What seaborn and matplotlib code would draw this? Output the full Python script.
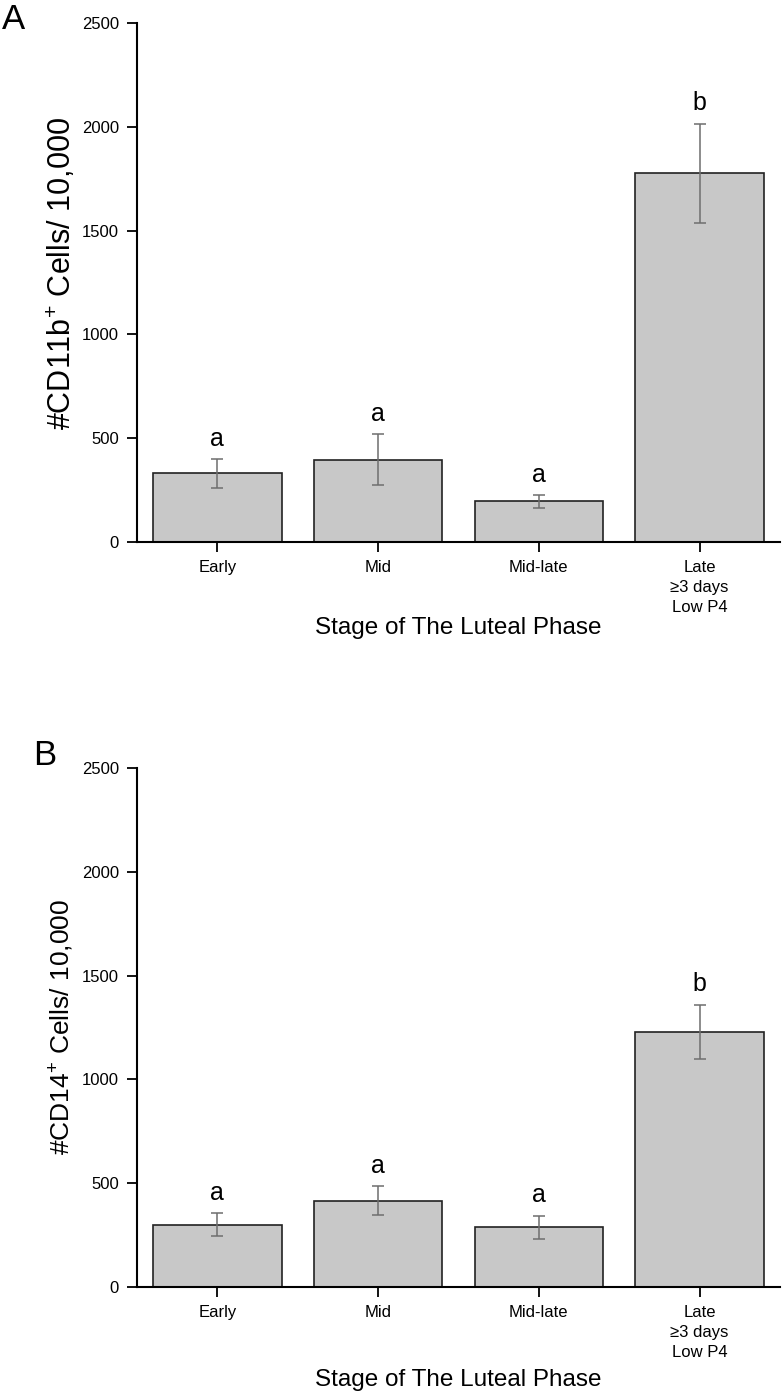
import matplotlib
matplotlib.use("Agg")
import matplotlib.pyplot as plt
import seaborn as sns
import numpy as np
import pandas as pd

categories = ["Early", "Mid", "Mid-late", "Late\n\u22653 days\nLow P4"]

cd11b_mean = [330, 395, 195, 1775]
cd11b_err = [70, 123, 30, 240]
cd11b_letters = ["a", "a", "a", "b"]

cd14_mean = [300, 415, 288, 1230]
cd14_err = [55, 70, 55, 130]
cd14_letters = ["a", "a", "a", "b"]

y_ticks = [0, 500, 1000, 1500, 2000, 2500]

sns.set_theme(style="ticks")
plt.rcParams["font.family"] = ["Liberation Sans", "DejaVu Sans"]
plt.rcParams["mathtext.fontset"] = "custom"
plt.rcParams["mathtext.rm"] = "Liberation Sans"
plt.rcParams["mathtext.it"] = "Liberation Sans:italic"
plt.rcParams["mathtext.bf"] = "Liberation Sans:bold"
plt.rcParams["text.color"] = "black"
plt.rcParams["axes.labelcolor"] = "black"

fig = plt.figure(figsize=(7.84, 13.91), dpi=100)
axA = fig.add_axes([0.1747, 0.6104, 0.8202, 0.3731])
axB = fig.add_axes([0.1747, 0.0748, 0.8202, 0.3731])

panels = [
    (axA, cd11b_mean, cd11b_err, cd11b_letters, "#CD11b$^{+}$ Cells/ 10,000",
     "A", 22, (-0.092, 0.518), -0.145, (0.002, 0.986)),
    (axB, cd14_mean, cd14_err, cd14_letters, "#CD14$^{+}$ Cells/ 10,000",
     "B", 19, (-0.095, 0.5), -0.158, (0.042, 0.4572)),
]

for ax, means, errs, letters, ylab, tag, ylfs, ylc, xly, tagpos in panels:
    df = pd.DataFrame({"stage": categories, "value": means})
    sns.barplot(data=df, x="stage", y="value", ax=ax, color="#c8c8c8",
                saturation=1, edgecolor="#222222", linewidth=1.2,
                width=0.8, errorbar=None)
    ax.errorbar(np.arange(len(means)), means, yerr=errs, fmt="none",
                ecolor="#6e6e6e", elinewidth=1.1, capsize=4, capthick=1.1)
    for i, (m, e, l) in enumerate(zip(means, errs, letters)):
        ax.text(i, m + e + 40, l, ha="center", va="bottom", fontsize=18,
                color="black")
    ax.set_xlim(-0.5, 3.5)
    ax.set_ylim(0, 2500)
    ax.set_yticks(y_ticks)
    ax.set_yticklabels([str(t) for t in y_ticks], fontsize=12)
    ax.set_xticks(range(len(categories)))
    ax.set_xticklabels(categories, fontsize=12, linespacing=1.42)
    ax.tick_params(axis="both", direction="out", length=7, width=1.3,
                   color="black", labelcolor="black", pad=6)
    for s in ["top", "right"]:
        ax.spines[s].set_visible(False)
    for s in ["left", "bottom"]:
        ax.spines[s].set_linewidth(1.5)
        ax.spines[s].set_color("black")
    ax.set_ylabel(ylab, fontsize=ylfs)
    ax.yaxis.set_label_coords(*ylc)
    ax.set_xlabel("Stage of The Luteal Phase", fontsize=17.5)
    ax.xaxis.set_label_coords(0.5, xly)
    fig.text(tagpos[0], tagpos[1], tag, fontsize=25, ha="left", va="center")

fig.savefig("out.png", dpi=100)
